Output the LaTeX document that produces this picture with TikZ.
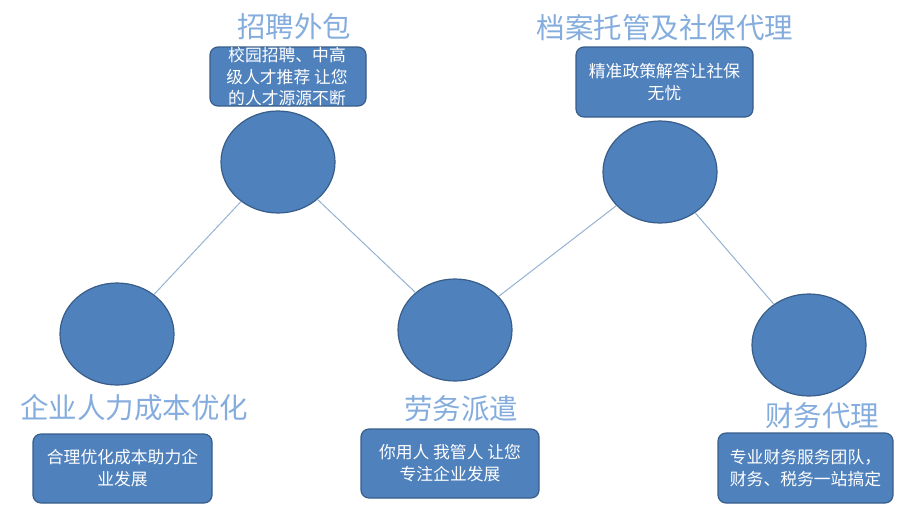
\documentclass[tikz,border=0pt]{standalone}
\usepackage{fontspec}
\setmainfont{Noto Sans CJK SC}
\usetikzlibrary{shapes,positioning}
\definecolor{ballFill}{RGB}{79,129,189}
\definecolor{ballEdge}{RGB}{56,93,138}
\definecolor{linkColor}{RGB}{150,178,210}
\definecolor{titleColor}{RGB}{132,173,222}
\tikzset{ball/.style={ellipse,draw=ballEdge,fill=ballFill,line width=1.2pt,minimum width=114pt,minimum height=102pt,inner sep=0pt}}
\tikzset{infobox/.style={rectangle,rounded corners=8pt,draw=ballEdge,fill=ballFill,line width=1.2pt,text=white,align=center,font=\fontsize{16.8}{22}\selectfont,inner sep=0pt}}
\tikzset{heading/.style={text=titleColor,font=\fontsize{28.5}{30}\selectfont,inner sep=0pt}}
\tikzset{link/.style={draw=linkColor,line width=1pt}}

\begin{document}
\begin{tikzpicture}[x=1pt,y=-1pt]
				\useasboundingbox (0,0) rectangle (901,507);
				% five balls
				\node [ball] (zhaopin) at (278,162) {};
				\node [ball] (dangan) at (660,172) {};
				\node [ball] (qiye) at (117,334) {};
				\node [ball] (laowu) at (455,330) {};
				\node [ball] (caiwu) at (809,345) {};
				\draw [link] (zhaopin) -- (qiye);
				\draw [link] (zhaopin) -- (laowu);
				\draw [link] (laowu) -- (dangan);
				\draw [link] (dangan) -- (caiwu);
				
				% headings
				\node [heading] (tZhaopin) at (294,27) {招聘外包};
				\node [heading] (tDangan) at (665,28) {档案托管及社保代理};
				\node [heading] (tQiye) at (134,408) {企业人力成本优化};
				\node [heading] (tLaowu) at (461,409) {劳务派遣};
				\node [heading] (tCaiwu) at (822,416) {财务代理};
				
				% boxes
				\node [infobox,minimum width=156pt,minimum height=59pt] (bZhaopin) at (288,76.5) {};
				\node [text=white,align=center,font=\fontsize{16.8}{21.5}\selectfont,inner sep=0pt] at (287,77) {校园招聘、中高\\级人才推荐 让您\\的人才源源不断};
				\node [infobox,minimum width=177pt,minimum height=70pt] (bDangan) at (664.5,82) {精准政策解答让社保\\无忧};
				\node [infobox,minimum width=179pt,minimum height=69pt] (bQiye) at (122.5,468.5) {合理优化成本助力企\\业发展};
				\node [infobox,minimum width=178pt,minimum height=69pt] (bLaowu) at (450,463.5) {你用人 我管人 让您\\专注企业发展};
				\node [infobox,minimum width=175pt,minimum height=70pt] (bCaiwu) at (805.5,468) {专业财务服务团队，\\财务、税务一站搞定};
				\end{tikzpicture}
\end{document}
